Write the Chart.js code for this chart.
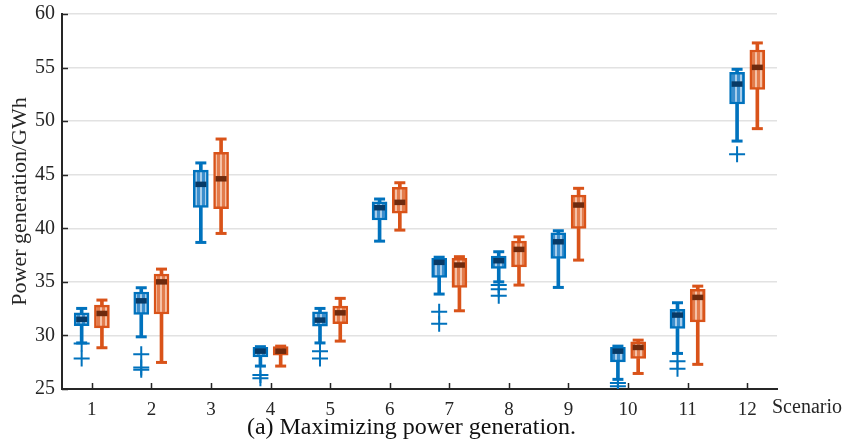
<!DOCTYPE html>
<html>
<head>
<meta charset="utf-8">
<script src="https://cdn.jsdelivr.net/npm/chart.js@4/dist/chart.umd.min.js"></script>
<style>
  html, body { margin: 0; padding: 0; background: #ffffff; }
  #wrap { width: 847px; height: 444px; }
</style>
</head>
<body>
<div id="wrap"><canvas id="c" width="847" height="444"></canvas></div>
<script>
// ---------------- data ----------------
const categories = ['1','2','3','4','5','6','7','8','9','10','11','12'];
const yTicks = [25, 30, 35, 40, 45, 50, 55, 60];

// Series 1 (blue)
const blueMax = [32.52, 34.45, 46.10, 28.95, 32.52, 42.73, 37.30, 37.81, 39.77, 29.00, 33.05, 54.84];
const blueQ3  = [32.10, 34.05, 45.43, 28.88, 32.20, 42.48, 37.20, 37.40, 39.58, 28.88, 32.43, 54.56];
const blueMed = [31.50, 33.23, 44.10, 28.53, 31.43, 41.92, 36.82, 36.97, 38.74, 28.53, 31.90, 53.46];
const blueQ1  = [30.90, 31.96, 41.95, 28.00, 30.87, 40.77, 35.42, 36.26, 37.19, 27.53, 30.65, 51.60];
const blueMin = [29.30, 29.87, 38.68, 27.14, 29.30, 38.80, 33.86, 35.00, 34.48, 25.90, 28.32, 48.14];
const blueOut = [[29.25, 27.85], [28.25, 27.0, 26.8], [], [26.3, 26.0], [28.53, 27.85], [],
                 [32.2, 31.1], [34.7, 34.3, 33.7], [], [25.55, 25.25], [27.6, 26.9], [46.9]];

// Series 2 (orange)
const orangeMax = [33.30, 36.19, 48.33, 29.00, 33.46, 44.25, 37.35, 39.20, 43.73, 29.56, 34.60, 57.30];
const orangeQ3  = [32.83, 35.72, 47.08, 28.95, 32.74, 43.82, 37.19, 38.80, 43.10, 29.40, 34.30, 56.64];
const orangeMed = [32.05, 35.00, 44.62, 28.53, 32.11, 42.42, 36.57, 38.03, 42.17, 28.88, 33.55, 55.02];
const orangeQ1  = [30.70, 32.00, 41.82, 28.16, 31.10, 41.40, 34.48, 36.40, 39.99, 27.85, 31.27, 52.97];
const orangeMin = [28.85, 27.48, 39.52, 27.14, 29.47, 39.83, 32.30, 34.70, 37.03, 26.45, 27.30, 49.30];
const orangeOut = [[], [], [], [], [], [], [], [], [], [], [], []];

const xAxisName = 'Scenario';
const yAxisName = 'Power generation/GWh';
const caption = '(a) Maximizing power generation.';

// ---------------- styles ----------------
const FONT = '"Liberation Serif", "Times New Roman", serif';
const AXIS = '#262626';
const SHIFT = 0.17;   // horizontal offset of each series inside a category

function stripePattern(base, stripe) {
  const c = document.createElement('canvas');
  c.width = 5; c.height = 4;
  const g = c.getContext('2d');
  g.fillStyle = base; g.fillRect(0, 0, 5, 4);
  g.fillStyle = stripe; g.fillRect(0, 0, 2, 4);
  return g.createPattern(c, 'repeat');
}

function seriesDatasets(name, color, fill, dark, maxA, q3A, medA, q1A, minA, outA, shift) {
  const xs = categories.map((_, i) => i + 1 + shift);
  const whiskers = [];
  xs.forEach((x, i) => {
    whiskers.push({ x: x, y: [minA[i], q1A[i]] });
    whiskers.push({ x: x, y: [q3A[i], maxA[i]] });
  });
  const caps = [];
  xs.forEach((x, i) => { caps.push({ x: x, y: minA[i] }); caps.push({ x: x, y: maxA[i] }); });
  const outs = [];
  xs.forEach((x, i) => outA[i].forEach(v => outs.push({ x: x, y: v })));
  return [
    { type: 'bar', label: name + ' whiskers', data: whiskers, grouped: false,
      barThickness: 3, backgroundColor: color, borderWidth: 0, order: 5 },
    { type: 'bar', label: name + ' box', data: xs.map((x, i) => ({ x: x, y: [q1A[i], q3A[i]] })),
      grouped: false, barThickness: 15, backgroundColor: fill, borderColor: color,
      borderWidth: 2.5, borderSkipped: false, order: 4 },
    { type: 'scatter', label: name + ' caps', data: caps, pointStyle: 'line',
      pointRadius: 5.5, pointBorderWidth: 3, pointBorderColor: color, pointBackgroundColor: color, order: 3 },
    { type: 'scatter', label: name + ' median', data: xs.map((x, i) => ({ x: x, y: medA[i] })),
      pointStyle: 'line', pointRadius: 5.5, pointBorderWidth: 5.5, pointBorderColor: dark,
      pointBackgroundColor: dark, order: 2 },
    { type: 'scatter', label: name + ' outliers', data: outs, pointStyle: 'cross',
      pointRadius: 8, pointBorderWidth: 2, pointBorderColor: color, pointBackgroundColor: color, order: 1 }
  ];
}

const datasets = [].concat(
  seriesDatasets('S1', '#0072BD', stripePattern('#3b8ecd', '#a8cdea'), '#083a66',
    blueMax, blueQ3, blueMed, blueQ1, blueMin, blueOut, -SHIFT),
  seriesDatasets('S2', '#D95319', stripePattern('#e37c4c', '#f5c1a6'), '#6e2a0e',
    orangeMax, orangeQ3, orangeMed, orangeQ1, orangeMin, orangeOut, SHIFT)
);

// inward tick marks, the x-axis name and the caption, placed from the chart's scales
const axisExtras = {
  id: 'axisExtras',
  afterDraw(chart) {
    const { ctx, scales: { x, y } } = chart;
    ctx.save();
    ctx.strokeStyle = AXIS;
    ctx.lineWidth = 1.5;
    ctx.beginPath();
    x.ticks.forEach(t => {
      const px = Math.round(x.getPixelForValue(t.value)) + 0.5;
      ctx.moveTo(px, x.top); ctx.lineTo(px, x.top - 6);
    });
    y.ticks.forEach(t => {
      const py = Math.round(y.getPixelForValue(t.value)) + 0.5;
      ctx.moveTo(y.right, py); ctx.lineTo(y.right + 6, py);
    });
    ctx.stroke();
    ctx.fillStyle = AXIS;
    ctx.textBaseline = 'middle';
    ctx.textAlign = 'left';
    ctx.font = '20px ' + FONT;
    ctx.fillText(xAxisName, x.right - 5, x.top + 19);
    ctx.fillStyle = '#111';
    ctx.font = '24px ' + FONT;
    ctx.textAlign = 'center';
    ctx.fillText(caption, (x.left + x.right) / 2 - 8, x.top + 39);
    ctx.restore();
  }
};

new Chart(document.getElementById('c'), {
  type: 'bar',
  data: { datasets: datasets },
  plugins: [axisExtras],
  options: {
    responsive: false,
    animation: false,
    devicePixelRatio: 1,
    layout: { padding: { left: 0, right: 70, top: 14, bottom: 0 } },
    plugins: {
      legend: { display: false },
      tooltip: { enabled: false }
    },
    scales: {
      x: {
        type: 'linear', min: 0.5, max: 12.5, offset: false,
        afterBuildTicks(scale) { scale.ticks = categories.map((_, i) => ({ value: i + 1 })); },
        afterFit(scale) { scale.height = 55; scale.paddingLeft = 0; scale.paddingRight = 0; },
        grid: { display: false, drawTicks: false, offset: false },
        border: { display: true, color: AXIS, width: 2 },
        ticks: {
          color: AXIS, padding: 10, maxRotation: 0, autoSkip: false,
          font: { family: FONT, size: 19 },
          callback: (v) => categories[Math.round(v) - 1]
        }
      },
      y: {
        type: 'linear', min: 25, max: 60, stacked: false,
        afterBuildTicks(scale) { scale.ticks = yTicks.map(v => ({ value: v })); },
        afterFit(scale) { scale.width = 62; scale.paddingTop = 0; scale.paddingBottom = 0; },
        grid: { color: '#e2e2e2', lineWidth: 1.5, drawTicks: false },
        border: { display: true, color: AXIS, width: 2 },
        ticks: { color: AXIS, padding: 7, font: { family: FONT, size: 20 } },
        title: {
          display: true, text: yAxisName, color: AXIS,
          font: { family: FONT, size: 22 }, padding: { top: 7, bottom: 0 }
        }
      }
    }
  }
});
</script>
</body>
</html>
